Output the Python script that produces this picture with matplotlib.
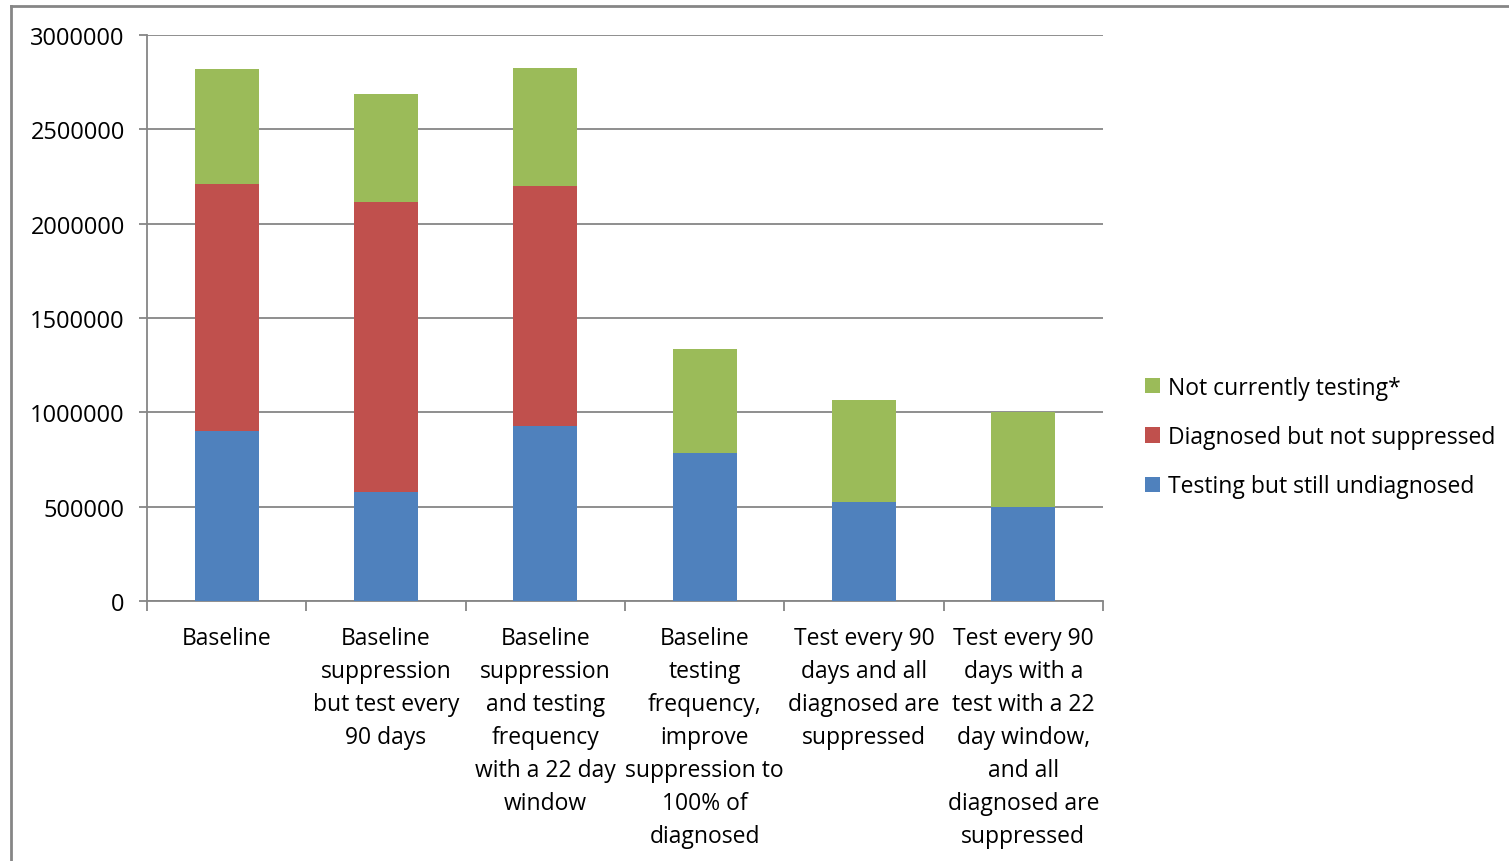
import matplotlib
matplotlib.use("Agg")
import matplotlib.pyplot as plt
from matplotlib.lines import Line2D

categories = [
    "Baseline",
    "Baseline\nsuppression\nbut test every\n90 days",
    "Baseline\nsuppression\nand testing\nfrequency\nwith a 22 day\nwindow",
    "Baseline\ntesting\nfrequency,\nimprove\nsuppression to\n100% of\ndiagnosed",
    "Test every 90\ndays and all\ndiagnosed are\nsuppressed",
    "Test every 90\ndays with a\ntest with a 22\nday window,\nand all\ndiagnosed are\nsuppressed",
]
testing_undiagnosed = [901000, 578000, 928000, 784000, 525000, 498000]
diagnosed_not_suppressed = [1309000, 1537000, 1272000, 0, 0, 0]
not_testing = [610000, 572000, 625000, 552000, 540000, 504000]

series_names = ["Testing but still undiagnosed", "Diagnosed but not suppressed",
                "Not currently testing*"]
colors = ["#4F81BD", "#C0504D", "#9BBB59"]

plt.rcParams["font.family"] = ["Open Sans", "DejaVu Sans"]

W, H = 1509, 862
fig = plt.figure(figsize=(W / 100, H / 100), dpi=100)
ax = fig.add_axes([147 / W, 1 - 602 / H, (1103 - 147) / W, (602 - 36) / H])

x = list(range(len(categories)))
bottom = [0] * len(categories)
handles = []
for vals, name, c in zip([testing_undiagnosed, diagnosed_not_suppressed, not_testing],
                         series_names, colors):
    b = ax.bar(x, vals, 0.4, bottom=bottom, color=c, label=name, zorder=3,
               edgecolor="none")
    handles.append(b)
    bottom = [bb + v for bb, v in zip(bottom, vals)]

ax.set_xlim(-0.5, len(categories) - 0.5)
ax.set_ylim(0, 3000000)
ax.set_yticks(range(0, 3000001, 500000))
ax.set_yticklabels([str(v) for v in range(0, 3000001, 500000)], fontsize=17)
ax.yaxis.grid(True, color="#868686", linewidth=1.3, zorder=0)
ax.set_axisbelow(True)
for s in ["top", "right"]:
    ax.spines[s].set_visible(False)
for s in ["left", "bottom"]:
    ax.spines[s].set_color("#868686")
    ax.spines[s].set_linewidth(1.3)
ax.tick_params(axis="y", length=6, width=1.3, color="#868686", pad=10)

# category labels centred under the bars, boundaries marked by ticks
ax.set_xticks([i - 0.5 for i in range(len(categories) + 1)])
ax.set_xticklabels([])
ax.tick_params(axis="x", length=7, width=1.3, color="#868686")
for i, lab in enumerate(categories):
    ax.text(i, -0.044, lab, transform=ax.get_xaxis_transform(), ha="center",
            va="top", fontsize=16.5, linespacing=1.5)

leg = fig.legend(handles[::-1], series_names[::-1], loc="center left",
                 bbox_to_anchor=(1136 / W, 1 - 438 / H), frameon=False,
                 fontsize=16.5, handlelength=0.65, handleheight=0.65,
                 labelspacing=1.1, handletextpad=0.35, borderaxespad=0)

# outer chart frame (left and top edges)
frame_kw = dict(transform=fig.transFigure, color="#868686", linewidth=2)
fig.add_artist(Line2D([11 / W, 11 / W], [0, 1 - 7 / H], **frame_kw))
fig.add_artist(Line2D([11 / W, 1], [1 - 7 / H, 1 - 7 / H], **frame_kw))

fig.savefig("out.png", dpi=100)
